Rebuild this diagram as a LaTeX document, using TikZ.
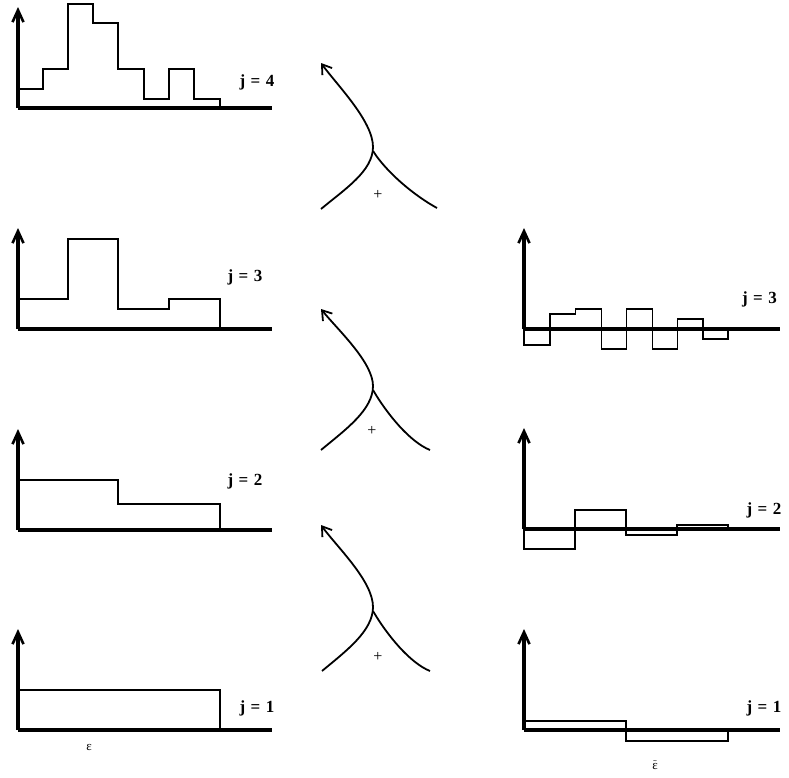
\documentclass[tikz,border=0pt]{standalone}
\usepackage{fontspec}
\setmainfont{Liberation Serif}
\usetikzlibrary{arrows.meta}
\begin{document}
\begin{tikzpicture}[x=1pt,y=-1pt,
  axisline/.style={line width=3.2pt,-{Straight Barb[length=12pt,width=11pt,line width=2.6pt]}},
  xaxisline/.style={line width=3.2pt},
  histline/.style={line width=1.8pt,line join=miter},
  curveline/.style={line width=1.8pt},
  curvearrow/.style={curveline,-{Straight Barb[length=9pt,width=12pt,line width=1.8pt]}},
  jlabel/.style={font=\fontsize{17pt}{19pt}\selectfont\bfseries,anchor=base,inner sep=0pt},
  plus/.style={font=\fontsize{16pt}{18pt}\selectfont,inner sep=0pt},
  eps/.style={font=\fontsize{13pt}{15pt}\selectfont,inner sep=0pt}
]
\useasboundingbox (0,0) rectangle (789,777);
\newcommand{\jtext}[1]{j\hspace{0.32em}=\hspace{0.32em}#1}

% ---------- left column ----------
% j = 4
\coordinate (L4o) at (18,108);
\coordinate (L4t) at (18,7);
\coordinate (L4e) at (272,108);
\draw[histline] (18,108) -- (18,89) -| (43,69) -| (68,4) -| (93,23) -| (118,69) -| (144,99) -| (169,69) -| (194,99) -| (220,108);
\draw[xaxisline] (L4o) -- (L4e);
\draw[axisline] (L4o) -- (L4t);
\node[jlabel] (lab4) at (257,86) {\jtext{4}};

% j = 3
\coordinate (L3o) at (18,329);
\coordinate (L3t) at (18,228);
\coordinate (L3e) at (272,329);
\draw[histline] (18,329) -- (18,299) -| (68,239) -| (118,309) -| (169,299) -| (220,329);
\draw[xaxisline] (L3o) -- (L3e);
\draw[axisline] (L3o) -- (L3t);
\node[jlabel] (lab3) at (245,281) {\jtext{3}};

% j = 2
\coordinate (L2o) at (18,530);
\coordinate (L2t) at (18,429);
\coordinate (L2e) at (272,530);
\draw[histline] (18,530) -- (18,480) -| (118,504) -| (220,530);
\draw[xaxisline] (L2o) -- (L2e);
\draw[axisline] (L2o) -- (L2t);
\node[jlabel] (lab2) at (245,485) {\jtext{2}};

% j = 1
\coordinate (L1o) at (18,730);
\coordinate (L1t) at (18,629);
\coordinate (L1e) at (272,730);
\draw[histline] (18,730) -- (18,690) -| (220,730);
\draw[xaxisline] (L1o) -- (L1e);
\draw[axisline] (L1o) -- (L1t);
\node[jlabel] (lab1) at (257,712) {\jtext{1}};
\node[eps] (epsL) at (89,747) {ε};

% ---------- right column ----------
% j = 3
\coordinate (R3o) at (524,329);
\coordinate (R3t) at (524,228);
\coordinate (R3e) at (780,329);
\draw[histline] (524,329) -- (524,345) -| (550,314) -| (575.5,309) -| (601.5,349) -| (626.5,309) -| (652.5,349) -| (677.5,319) -| (703,339) -| (728,329);
\draw[xaxisline] (R3o) -- (R3e);
\draw[axisline] (R3o) -- (R3t);
\node[jlabel] (rlab3) at (759.5,303) {\jtext{3}};

% j = 2
\coordinate (R2o) at (524,529);
\coordinate (R2t) at (524,428);
\coordinate (R2e) at (780,529);
\draw[histline] (524,529) -- (524,549) -| (575,510) -| (626,535) -| (677,525) -| (728,529);
\draw[xaxisline] (R2o) -- (R2e);
\draw[axisline] (R2o) -- (R2t);
\node[jlabel] (rlab2) at (764,514) {\jtext{2}};

% j = 1
\coordinate (R1o) at (524,730);
\coordinate (R1t) at (524,629);
\coordinate (R1e) at (780,730);
\draw[histline] (524,730) -- (524,721) -| (626,741) -| (728,730);
\draw[xaxisline] (R1o) -- (R1e);
\draw[axisline] (R1o) -- (R1t);
\node[jlabel] (rlab1) at (764,712) {\jtext{1}};
\node[eps] (epsR) at (655,765) {$\tilde{\hbox{ε}}$};

% ---------- combining arrows ----------
% top
\coordinate (A1b) at (321,209);
\coordinate (A1j) at (373,147);
\coordinate (A1t) at (321,63);
\coordinate (A1k) at (373,151);
\coordinate (A1r) at (437,208);
\draw[curvearrow] (A1b) .. controls +(24,-20) and +(0,24) .. (A1j) .. controls +(0,-26) and +(16,22) .. (A1t);
\draw[curveline] (A1k) .. controls +(14,22) and +(-22,-12) .. (A1r);
\node[plus] (p1) at (378,195) {+};

% middle
\coordinate (A2b) at (321,450);
\coordinate (A2j) at (373,386);
\coordinate (A2t) at (321,309);
\coordinate (A2k) at (373,390);
\coordinate (A2r) at (430,450);
\draw[curvearrow] (A2b) .. controls +(24,-20) and +(0,24) .. (A2j) .. controls +(0,-24) and +(16,20) .. (A2t);
\draw[curveline] (A2k) .. controls +(14,24) and +(-20,-8) .. (A2r);
\node[plus] (p2) at (372,431) {+};

% bottom
\coordinate (A3b) at (322,671);
\coordinate (A3j) at (373,607);
\coordinate (A3t) at (321,525);
\coordinate (A3k) at (373,611);
\coordinate (A3r) at (430,671);
\draw[curvearrow] (A3b) .. controls +(24,-20) and +(0,24) .. (A3j) .. controls +(0,-26) and +(16,22) .. (A3t);
\draw[curveline] (A3k) .. controls +(14,24) and +(-20,-8) .. (A3r);
\node[plus] (p3) at (378,657) {+};
\end{tikzpicture}
\end{document}
